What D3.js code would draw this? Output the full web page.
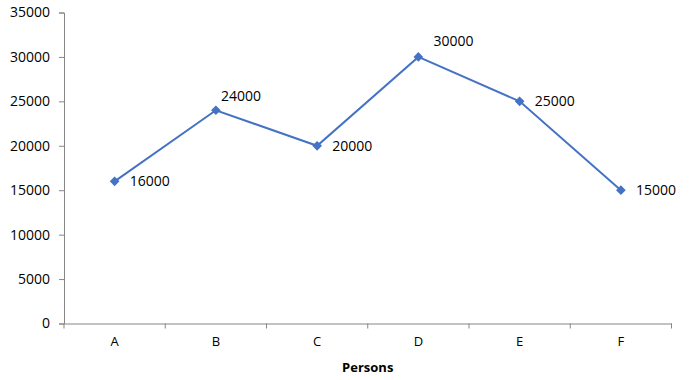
<!DOCTYPE html>
<html><head><meta charset="utf-8">
<script src="https://cdn.jsdelivr.net/npm/d3@7"></script>
<style>body{margin:0;background:#fff}svg{display:block}</style>
</head><body>
<svg id="c" width="690" height="380"></svg>
<script>
const categories = ["A","B","C","D","E","F"];
const values = [16000,24000,20000,30000,25000,15000];
const yTicks = [0,5000,10000,15000,20000,25000,30000,35000];
const xTitle = "Persons";
// label placement per point: "right", "above" or "aboveRight"
const labelPos = ["right","above","right","aboveRight","right","right"];

(function(){
const svg = d3.select("#c");
const font = "Open Sans, Liberation Sans, sans-serif";
const mLeft = 64, mRight = 671.5, mTop = 12.5, mBottom = 323.5;
const x = d3.scaleBand().domain(categories).range([mLeft, mRight]);
const y = d3.scaleLinear().domain([0,35000]).range([mBottom, mTop]);
const axisColor = "#868686";

const ya = svg.append("g").attr("transform",`translate(${mLeft},0)`)
  .call(d3.axisLeft(y).tickValues(yTicks).tickSize(5).tickPadding(9).tickFormat(d3.format("d")));
ya.select(".domain").attr("stroke",axisColor);
ya.selectAll(".tick line").attr("stroke",axisColor);
ya.selectAll("text").attr("font-family",font).attr("font-size",14).attr("fill","#000");

const xa = svg.append("g").attr("transform",`translate(0,${mBottom})`)
  .call(d3.axisBottom(x).tickSize(0).tickPadding(13));
xa.select(".domain").attr("stroke",axisColor);
xa.selectAll("text").attr("font-family",font).attr("font-size",13).attr("fill","#000");
const bounds = categories.map(c=>x(c)).concat([x(categories[categories.length-1])+x.bandwidth()]);
svg.append("g").selectAll("line").data(bounds).join("line")
  .attr("x1",d=>d).attr("x2",d=>d).attr("y1",mBottom).attr("y2",mBottom+5)
  .attr("stroke",axisColor);

svg.append("text").attr("x",(mLeft+mRight)/2).attr("y",372).attr("text-anchor","middle")
  .attr("font-family",font).attr("font-size",13).attr("font-weight","bold").text(xTitle);

const cx = d => x(d)+x.bandwidth()/2;
const data = categories.map((c,i)=>({c, v:values[i], p:labelPos[i]}));
svg.append("path").datum(data)
  .attr("d", d3.line().x(d=>cx(d.c)).y(d=>y(d.v)))
  .attr("fill","none").attr("stroke","#4472C4").attr("stroke-width",2);
svg.append("g").selectAll("path").data(data).join("path")
  .attr("transform",d=>`translate(${cx(d.c)},${y(d.v)})`)
  .attr("d", d3.symbol().type(d3.symbolDiamond2).size(60)())
  .attr("fill","#4472C4");

const off = {right:[15,5], above:[5,-9], aboveRight:[15,-11]};
svg.append("g").selectAll("text").data(data).join("text")
  .attr("x",d=> cx(d.c) + off[d.p][0])
  .attr("y",d=> y(d.v) + off[d.p][1])
  .attr("font-family",font).attr("font-size",14).attr("fill","#000")
  .text(d=>d.v);
})();
</script>
</body></html>
